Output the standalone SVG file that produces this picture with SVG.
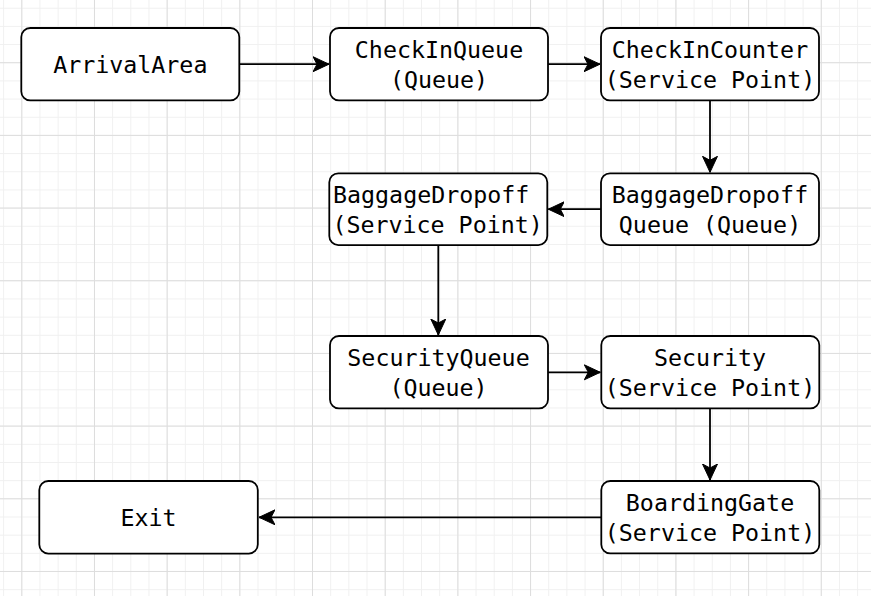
<svg xmlns="http://www.w3.org/2000/svg" width="871" height="596" viewBox="0 0 871 596">
<style>
.box{fill:#ffffff;stroke:#000000;stroke-width:1.8}
.lbl{font-family:"DejaVu Sans Mono","Liberation Mono",monospace;font-size:23.3px;fill:#000000;text-anchor:middle}
.edge{fill:none;stroke:#000000;stroke-width:1.8;marker-end:url(#arr)}
</style>
<defs>
<pattern id="minor" patternUnits="userSpaceOnUse" x="3.13" y="7.75" width="18.17" height="18.17">
<path d="M0 0.5 H18.17 M0.5 0 V18.17" stroke="#f0f0f0" stroke-width="1" fill="none"/>
</pattern>
<pattern id="major" patternUnits="userSpaceOnUse" x="21.3" y="62.2" width="72.68" height="72.68">
<path d="M0 0.5 H72.68 M0.5 0 V72.68" stroke="#dddddd" stroke-width="1" fill="none"/>
</pattern>
<marker id="arr" markerUnits="userSpaceOnUse" markerWidth="18" markerHeight="17" refX="16" refY="8" orient="auto" viewBox="0 0 18 17">
<path d="M0 0.5 L16 8 L0 15.5 L4 8 Z" fill="#000000" stroke="#000000" stroke-width="1"/>
</marker>
</defs>
<rect width="871" height="596" fill="#ffffff"/>
<rect width="871" height="596" fill="url(#minor)"/>
<rect width="871" height="596" fill="url(#major)"/>

<g id="connectors">
<path class="edge" d="M239.3 64.2 H329"/>
<path class="edge" d="M548 64.2 H600"/>
<path class="edge" d="M710 100 V172.3"/>
<path class="edge" d="M601 209.2 H548.3"/>
<path class="edge" d="M438.3 245 V335"/>
<path class="edge" d="M548 372.3 H600.3"/>
<path class="edge" d="M710 408.7 V480"/>
<path class="edge" d="M601 517.3 H259"/>
</g>

<g id="ArrivalArea">
<rect class="box" x="21.3" y="28" width="218" height="72.4" rx="9"/>
<text class="lbl" x="130.3" y="73.2">ArrivalArea</text>
</g>
<g id="CheckInQueue">
<rect class="box" x="330" y="28" width="218" height="72.4" rx="9"/>
<text class="lbl" x="439" y="58">CheckInQueue</text>
<text class="lbl" x="439" y="88">(Queue)</text>
</g>
<g id="CheckInCounter">
<rect class="box" x="601" y="28" width="218" height="72.4" rx="9"/>
<text class="lbl" x="710" y="58">CheckInCounter</text>
<text class="lbl" x="710" y="88">(Service Point)</text>
</g>
<g id="BaggageDropoffQueue">
<rect class="box" x="601" y="173.3" width="218" height="71.8" rx="9"/>
<text class="lbl" x="710" y="203.2">BaggageDropoff</text>
<text class="lbl" x="710" y="233.2">Queue (Queue)</text>
</g>
<g id="BaggageDropoff">
<rect class="box" x="329.3" y="173.3" width="218" height="71.8" rx="9"/>
<text class="lbl" x="431.2" y="203.2">BaggageDropoff</text>
<text class="lbl" x="437.6" y="233.2">(Service Point)</text>
</g>
<g id="SecurityQueue">
<rect class="box" x="330" y="336" width="218" height="72.4" rx="9"/>
<text class="lbl" x="438.5" y="366.2">SecurityQueue</text>
<text class="lbl" x="438.5" y="396.2">(Queue)</text>
</g>
<g id="Security">
<rect class="box" x="601.3" y="336" width="218" height="72.4" rx="9"/>
<text class="lbl" x="710" y="366.2">Security</text>
<text class="lbl" x="710" y="396.2">(Service Point)</text>
</g>
<g id="BoardingGate">
<rect class="box" x="601.3" y="481" width="218" height="72.4" rx="9"/>
<text class="lbl" x="710" y="511.2">BoardingGate</text>
<text class="lbl" x="710" y="541.2">(Service Point)</text>
</g>
<g id="Exit">
<rect class="box" x="39.3" y="481" width="218.5" height="72.6" rx="9"/>
<text class="lbl" x="148.5" y="525.5">Exit</text>
</g>
</svg>
